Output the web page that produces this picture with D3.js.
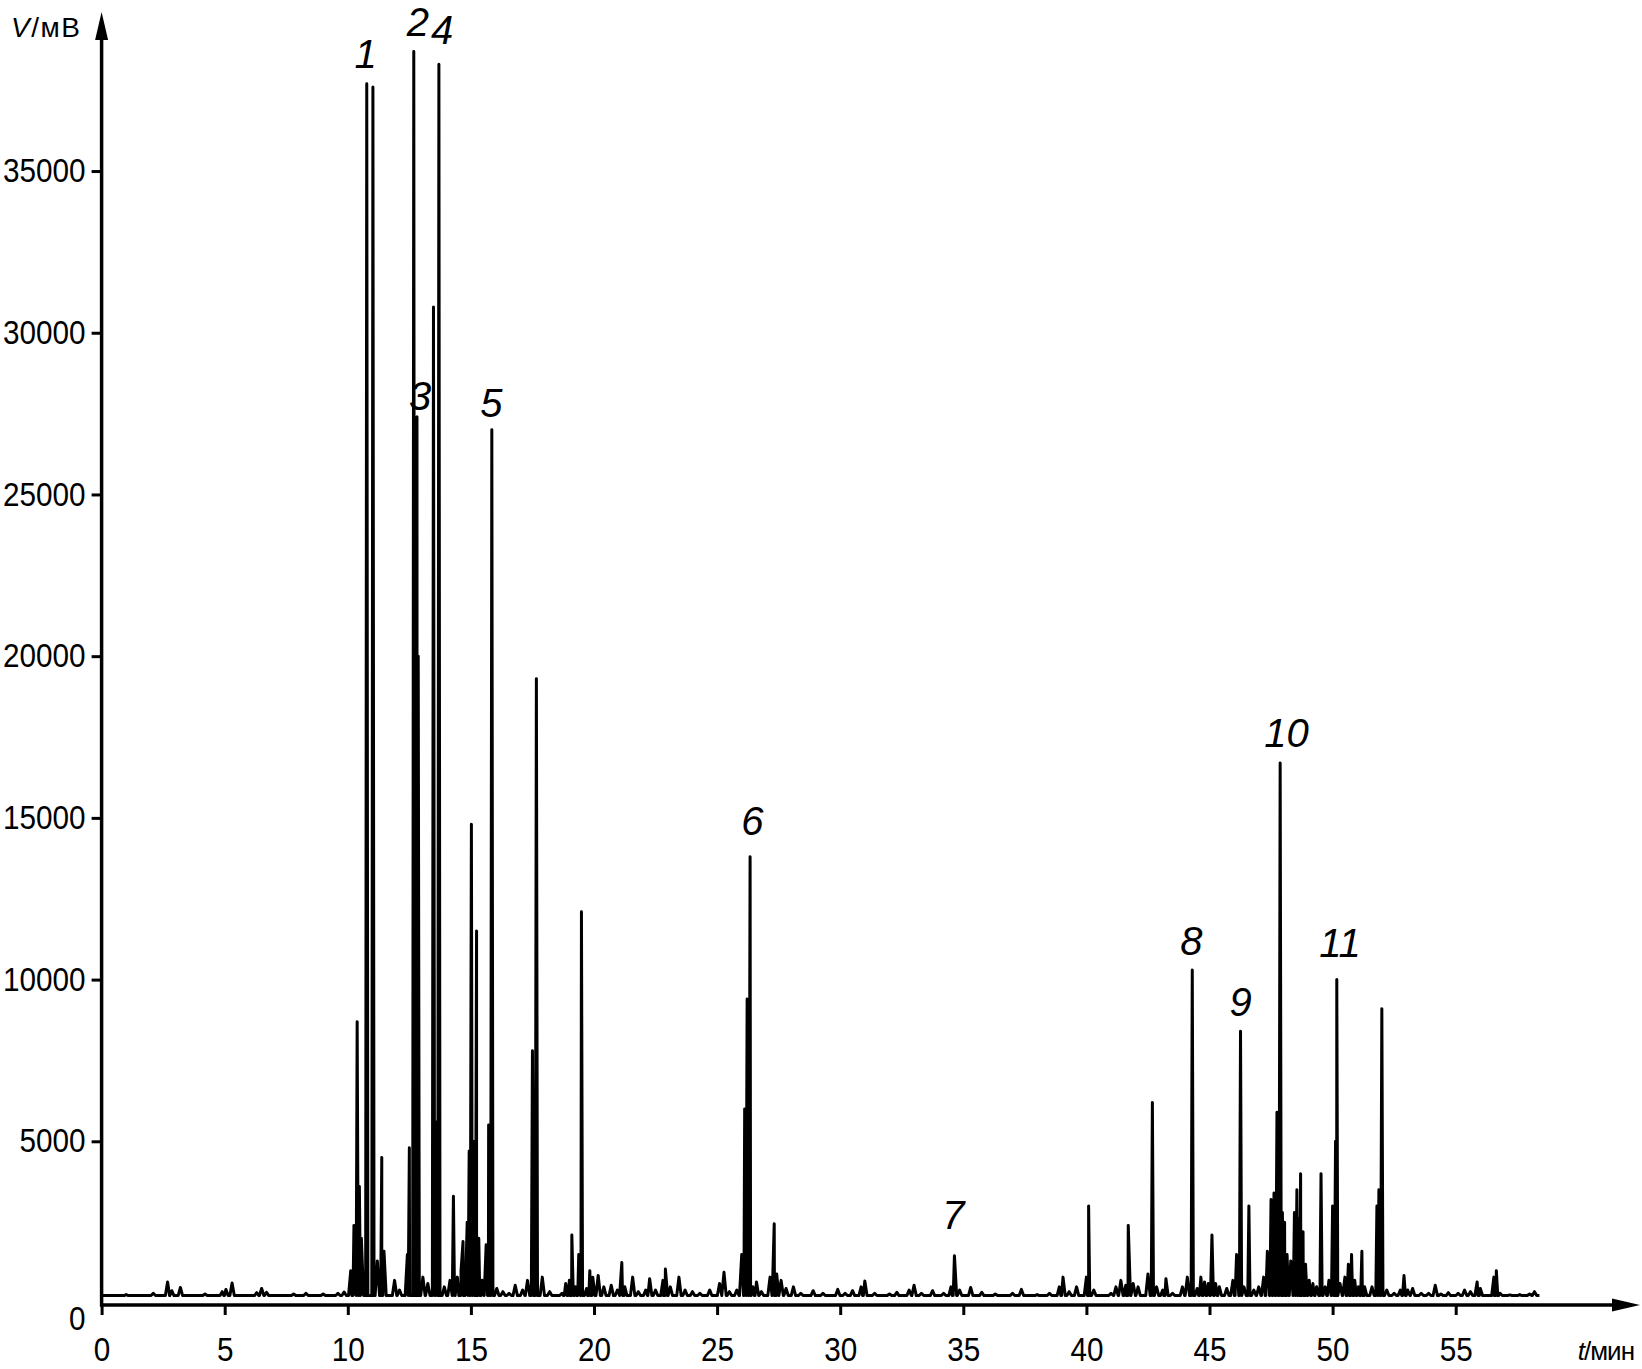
<!DOCTYPE html>
<html>
<head>
<meta charset="utf-8">
<script src="https://cdn.jsdelivr.net/npm/d3@7"></script>
<style>
  body { margin: 0; background: #fff; }
  text { font-family: "Liberation Sans", Arial, sans-serif; fill: #000; }
</style>
</head>
<body>
<script>
// retention times (min) and signal heights (mV)
var peakTimes = [
  1.0, 2.1, 2.68, 2.85, 3.2, 4.2, 4.9, 5.05, 5.3, 6.3, 6.5, 6.7, 7.8, 8.3, 9.0, 9.6, 9.85,
  10.12, 10.25, 10.38, 10.47, 10.55, 10.77, 11.02, 11.2, 11.38, 11.47, 11.9, 12.1, 12.42, 12.5,
  12.68, 12.76, 12.81, 12.86, 13.05, 13.25, 13.48, 13.6, 13.7, 13.92, 14.15, 14.29, 14.45, 14.6,
  14.68, 14.85, 14.93, 15.02, 15.1, 15.23, 15.32, 15.45, 15.62, 15.72, 15.85, 16.05, 16.3, 16.55,
  16.8, 17.1, 17.3, 17.5, 17.66, 17.9, 18.2, 18.7, 18.85, 19.0, 19.1, 19.25, 19.38, 19.49, 19.7,
  19.83, 19.95, 20.17, 20.4, 20.7, 20.95, 21.13, 21.25, 21.57, 21.8, 22.1, 22.26, 22.5, 22.8,
  22.9, 23.1, 23.45, 23.7, 24.0, 24.3, 24.7, 25.1, 25.28, 25.5, 25.8, 26.0, 26.12, 26.22, 26.34,
  26.45, 26.6, 26.8, 27.15, 27.32, 27.42, 27.6, 27.8, 28.1, 28.4, 28.9, 29.3, 29.9, 30.2, 30.5,
  30.85, 31.0, 31.4, 32.0, 32.3, 32.8, 33.0, 33.3, 33.75, 34.2, 34.5, 34.64, 34.85, 35.3, 35.75,
  36.3, 37.0, 37.36, 38.0, 38.5, 38.9, 39.05, 39.3, 39.6, 40.0, 40.09, 40.3, 41.0, 41.2, 41.4,
  41.6, 41.7, 41.9, 42.1, 42.5, 42.68, 42.85, 43.1, 43.23, 43.5, 43.9, 44.1, 44.3, 44.5, 44.65,
  44.8, 44.95, 45.1, 45.25, 45.4, 45.7, 45.95, 46.1, 46.26, 46.4, 46.6, 46.8, 47.0, 47.2, 47.35,
  47.5, 47.62, 47.74, 47.87, 47.96, 48.05, 48.15, 48.3, 48.45, 48.55, 48.62, 48.7, 48.8, 48.9,
  49.05, 49.2, 49.35, 49.53, 49.7, 49.85, 50.0, 50.12, 50.17, 50.3, 50.5, 50.64, 50.77, 50.9,
  51.05, 51.19, 51.3, 51.6, 51.8, 51.88, 52.0, 52.2, 52.5, 52.75, 52.9, 53.05, 53.25, 53.6, 53.9,
  54.17, 54.4, 54.7, 55.1, 55.36, 55.6, 55.87, 56.0, 56.55, 56.65, 56.8, 57.2, 57.6, 58.0, 58.2
];
var peakHeights = [
  260, 300, 650, 380, 480, 280, 350, 420, 620, 320, 450, 330, 280, 300, 280, 300, 340,
  1000, 2400, 8700, 3600, 2000, 37700, 37600, 1300, 4500, 1600, 700, 400, 1500, 4800,
  38700, 22000, 27400, 20000, 800, 600, 30800, 5600, 38300, 500, 700, 3300, 800, 1000,
  1900, 2500, 4700, 14800, 5000, 11500, 2000, 700, 1800, 5500, 27000, 450, 350, 300,
  550, 400, 700, 7800, 19300, 800, 350, 300, 600, 700, 2100, 500, 1500, 12100, 450,
  1000, 800, 850, 500, 550, 400, 1250, 500, 800, 350, 400, 750, 400, 700,
  1050, 500, 800, 400, 350, 300, 400, 600, 950, 350, 400, 1500, 6000, 9400, 13800,
  500, 650, 350, 800, 2450, 900, 700, 450, 500, 300, 380, 300, 420, 300, 380,
  500, 680, 300, 280, 330, 400, 550, 300, 380, 300, 500, 1460, 400, 480, 330,
  280, 300, 420, 260, 300, 500, 800, 350, 500, 800, 3000, 400, 300, 500, 700,
  550, 2400, 600, 500, 900, 6200, 500, 400, 750, 300, 500, 800, 10300, 450, 800,
  650, 600, 2100, 600, 500, 450, 700, 1500, 8400, 500, 3000, 400, 500, 800, 1600,
  3200, 3400, 5900, 16700, 2800, 2500, 1500, 1300, 2800, 3500, 2600, 4000, 2200, 1200,
  700, 600, 500, 4000, 500, 700, 3000, 5000, 10000, 600, 800, 1200, 1500, 700,
  500, 1600, 500, 500, 3000, 3500, 9100, 400, 300, 400, 850, 400, 450, 300, 300,
  550, 280, 320, 300, 400, 350, 650, 450, 800, 1000, 300, 250, 260, 280, 350
];
var baseline = 230;
var traceStart = 0, traceEnd = 58.4;

// numbered peaks
var peakLabels = ["1", "2", "3", "4", "5", "6", "7", "8", "9", "10", "11"];
var labelTimes = [10.72, 12.85, 12.94, 13.83, 15.83, 26.43, 34.6, 44.26, 46.26, 48.13, 50.3];
var labelValues = [38190, 39190, 27600, 38930, 27400, 14480, 2280, 10760, 8880, 17200, 10700];

var xTicks = [0, 5, 10, 15, 20, 25, 30, 35, 40, 45, 50, 55];
var yTicks = [0, 5000, 10000, 15000, 20000, 25000, 30000, 35000];

var w = 1642, h = 1369;
var squeeze = 0.9;   // tick labels are narrow in the original

var svg = d3.select("body").append("svg")
  .attr("width", w)
  .attr("height", h);

var x = d3.scaleLinear().domain([0, 60]).range([101.6, 101.6 + 60 * 24.62]);
var y = d3.scaleLinear().domain([0, 40000]).range([1303, 1303 - 40000 / 30.92]);

// build the trace: every peak is a narrow spike on the baseline
var pts = [[traceStart, baseline]];
peakTimes.forEach(function(t, i) {
  var v = peakHeights[i];
  var hw = v > 2500 ? 0.045 : 0.09;
  pts.push([t - hw, baseline], [t, v], [t + hw, baseline]);
});
pts.push([traceEnd, baseline]);
pts.sort(function(a, b) { return a[0] - b[0]; });

var line = d3.line()
  .x(function(d) { return x(d[0]); })
  .y(function(d) { return y(d[1]); });

svg.append("path")
  .datum(pts)
  .attr("d", line)
  .attr("fill", "none")
  .attr("stroke", "#000")
  .attr("stroke-width", 3)
  .attr("stroke-linejoin", "round");

//Axes
var axisY0 = y(0) + 2;
var xAxis = svg.append("g")
  .attr("transform", "translate(0," + axisY0 + ")")
  .call(d3.axisBottom(x).tickValues(xTicks).tickSize(10).tickPadding(23).tickFormat(d3.format("d")));
var yAxis = svg.append("g")
  .attr("transform", "translate(" + x(0) + ",0)")
  .call(d3.axisLeft(y).tickValues(yTicks).tickSize(10).tickPadding(6).tickFormat(d3.format("d")));

[xAxis, yAxis].forEach(function(g) {
  g.select(".domain").remove();
  g.selectAll(".tick line").attr("stroke", "#000").attr("stroke-width", 3);
  g.selectAll(".tick text")
    .style("font-size", "33px")
    .attr("fill", "#000")
    .attr("transform", "scale(" + squeeze + ",1)");
});
yAxis.selectAll(".tick text").attr("x", -16 / squeeze);
yAxis.selectAll(".tick").filter(function(d) { return d === 0; })
  .select("text").attr("dy", "0.8em");
yAxis.selectAll(".tick").filter(function(d) { return d === 0; })
  .select("line").remove();

// axis lines with arrows
svg.append("line")
  .attr("x1", x(0)).attr("x2", x(0))
  .attr("y1", axisY0 + 1.5).attr("y2", 38)
  .attr("stroke", "#000").attr("stroke-width", 3.5);
svg.append("path")
  .attr("d", "M" + x(0) + ",12 L" + (x(0) - 6.5) + ",40 L" + (x(0) + 6.5) + ",40 Z")
  .attr("fill", "#000");
svg.append("line")
  .attr("x1", x(0) - 1.5).attr("x2", 1615)
  .attr("y1", axisY0).attr("y2", axisY0)
  .attr("stroke", "#000").attr("stroke-width", 3.5);
svg.append("path")
  .attr("d", "M1640," + axisY0 + " L1612," + (axisY0 - 6.5) + " L1612," + (axisY0 + 6.5) + " Z")
  .attr("fill", "#000");

// axis titles
var yTitle = svg.append("text").attr("x", 11).attr("y", 37)
  .style("font-size", "28px").style("letter-spacing", "1.5px");
yTitle.append("tspan").style("font-style", "italic").text("V");
yTitle.append("tspan").text("/мВ");
var xTitle = svg.append("text").attr("x", 1634).attr("y", 1360)
  .attr("text-anchor", "end")
  .style("font-size", "26px").style("letter-spacing", "-1px");
xTitle.append("tspan").style("font-style", "italic").text("t");
xTitle.append("tspan").text("/мин");

// peak numbers
svg.selectAll(".plabel")
  .data(peakLabels)
  .enter()
  .append("text")
    .attr("class", "plabel")
    .attr("x", function(d, i) { return x(labelTimes[i]); })
    .attr("y", function(d, i) { return y(labelValues[i]); })
    .attr("text-anchor", "middle")
    .style("font-size", "40px")
    .style("font-style", "italic")
    .text(function(d) { return d; });
</script>
</body>
</html>
